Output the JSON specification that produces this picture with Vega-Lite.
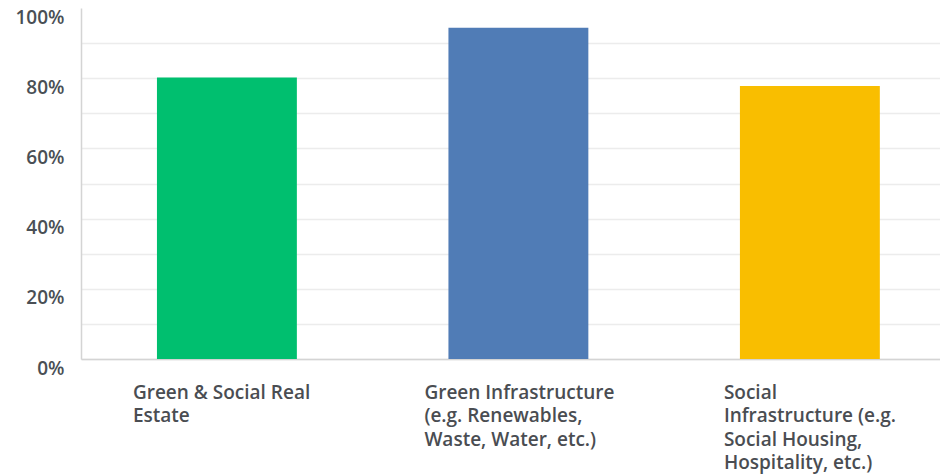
{
  "$schema": "https://vega.github.io/schema/vega-lite/v6.json",
  "autosize": {"type": "none"},
  "width": 859,
  "height": 351,
  "padding": {"left": 81, "top": 8, "right": 0, "bottom": 115},
  "background": "white",
  "data": {
    "values": [
      {"category": "Green & Social Real Estate", "share": 0.802, "color": "#00BF6F"},
      {"category": "Green Infrastructure (e.g. Renewables, Waste, Water, etc.)", "share": 0.944, "color": "#507CB6"},
      {"category": "Social Infrastructure (e.g. Social Housing, Hospitality, etc.)", "share": 0.778, "color": "#F9BE00"}
    ]
  },
  "mark": {"type": "bar"},
  "encoding": {
    "x": {
      "field": "category",
      "type": "nominal",
      "sort": null,
      "scale": {"paddingInner": 0.52, "paddingOuter": 0.2335, "align": 0.558},
      "axis": {
        "title": null,
        "ticks": false,
        "labelAngle": 0,
        "labelAlign": "left",
        "labelBaseline": "top",
        "labelOffset": {"condition": {"test": "indexof(datum.value, 'Social Infrastructure') == 0", "value": -86}, "value": -94},
        "labelPadding": 24,
        "labelFont": "Open Sans",
        "labelFontSize": 19,
        "labelFontWeight": 600,
        "labelColor": "#4a4d52",
        "labelLineHeight": 23.5,
        "labelLimit": 0,
        "labelOverlap": false,
        "labelBound": false,
        "domainColor": "#d4d4d4",
        "domainWidth": 1.5,
        "labelExpr": "datum.value == 'Green & Social Real Estate' ? ['Green & Social Real', 'Estate'] : datum.value == 'Green Infrastructure (e.g. Renewables, Waste, Water, etc.)' ? ['Green Infrastructure', '(e.g. Renewables,', 'Waste, Water, etc.)'] : ['Social', 'Infrastructure (e.g.', 'Social Housing,', 'Hospitality, etc.)']"
      }
    },
    "y": {
      "field": "share",
      "type": "quantitative",
      "scale": {"domain": [0, 1], "nice": false},
      "axis": {
        "title": null,
        "values": [0, 0.1, 0.2, 0.3, 0.4, 0.5, 0.6, 0.7, 0.8, 0.9, 1],
        "format": ".0%",
        "labelExpr": "round(datum.value * 100) % 20 == 0 ? datum.label : ''",
        "ticks": false,
        "labelPadding": 17,
        "labelOffset": 9,
        "labelFont": "Open Sans",
        "labelFontSize": 19,
        "labelFontWeight": 600,
        "labelColor": "#4a4f55",
        "labelBound": false,
        "labelFlush": false,
        "domainColor": "#d4d4d4",
        "domainWidth": 1.5,
        "gridColor": {"condition": {"test": "datum.value >= 1", "value": "transparent"}, "value": "#ececec"},
        "gridWidth": 1.5
      }
    },
    "color": {"field": "color", "type": "nominal", "scale": null, "legend": null}
  },
  "config": {"view": {"stroke": null}}
}
